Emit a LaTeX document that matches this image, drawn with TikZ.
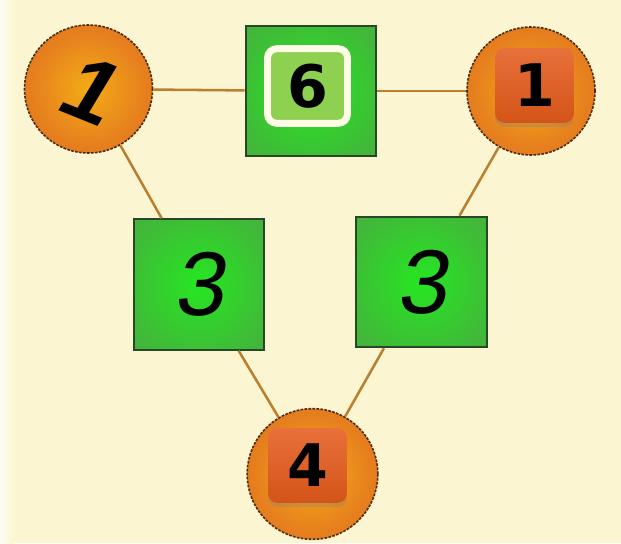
\documentclass[tikz,border=0pt]{standalone}
\usepackage{fontspec}
\usepackage{tikz}
\usetikzlibrary{shapes,shadows}

\newfontfamily\tagfont{DejaVu Sans}
\newfontfamily\handfont[FakeSlant=0.16]{Liberation Sans}

\definecolor{bgcream}{RGB}{251,246,209}
\definecolor{linkbrown}{RGB}{186,128,50}
\definecolor{ballin}{RGB}{244,172,22}
\definecolor{ballmid}{RGB}{230,128,30}
\definecolor{ballout}{RGB}{206,98,30}
\definecolor{ballrim}{RGB}{80,42,14}
\definecolor{boxin}{RGB}{38,230,34}
\definecolor{boxmid}{RGB}{62,190,54}
\definecolor{boxout}{RGB}{80,158,74}
\definecolor{boxrim}{RGB}{38,72,38}
\definecolor{tagtop}{RGB}{232,112,58}
\definecolor{tagbot}{RGB}{212,84,24}
\definecolor{sixfill}{RGB}{142,208,80}
\definecolor{sixrim}{RGB}{255,253,232}

\pgfdeclareradialshading{ballshade}{\pgfpoint{0bp}{0bp}}{color(0bp)=(ballin); color(22bp)=(ballmid); color(44bp)=(ballout); color(50bp)=(ballout)}
\pgfdeclareradialshading{boxshade}{\pgfpoint{0bp}{0bp}}{color(0bp)=(boxin); color(26bp)=(boxmid); color(50bp)=(boxout); color(75bp)=(boxout)}

\begin{document}
\begin{tikzpicture}[x=0.75pt,y=0.75pt,yscale=-1,xscale=1,
    ball/.style={circle,inner sep=0pt,minimum size=96pt,shading=ballshade,draw=ballrim,line width=1.2pt,dash pattern={on 2pt off 1pt}},
    greenbox/.style={rectangle,inner sep=0pt,minimum size=98pt,shading=boxshade,draw=boxrim,line width=1.4pt},
    tag/.style={rectangle,rounded corners=7pt,inner sep=0pt,minimum width=59pt,minimum height=56pt,top color=tagtop,bottom color=tagbot,font=\tagfont\bfseries\fontsize{44}{44}\selectfont},
    sixtag/.style={rectangle,rounded corners=7pt,inner sep=0pt,minimum width=60pt,minimum height=56pt,fill=sixfill,draw=sixrim,line width=5.2pt,font=\tagfont\bfseries\fontsize{44}{44}\selectfont},
    hand/.style={font=\handfont\fontsize{68}{68}\selectfont},
    link/.style={draw=linkbrown,line width=1.9pt}]
    \useasboundingbox (0,0) rectangle (621,543);
    
    %Background
    \fill [bgcream] (0,0) rectangle (621,543);
    \shade [left color=white!75!bgcream,right color=bgcream] (0,0) rectangle (14,543);
    
    %Shape: Circle
    \node [ball,hand] (cL) at (88.5,89) {\rotatebox{-22}{\bfseries 1}};
    %Shape: Circle
    \node [ball] (cR) at (531,91) {};
    %Shape: Circle
    \node [ball,minimum size=98pt] (cB) at (312.5,474) {};
    %Shape: Square
    \node [greenbox] (sT) at (311,91) {};
    %Shape: Square
    \node [greenbox,hand] (sL) at (199,284.5) {3};
    %Shape: Square
    \node [greenbox,hand] (sR) at (421.5,282) {3};
    
    %Straight Lines
    \draw [link] (cL) -- (sT);
    %Straight Lines
    \draw [link] (sT) -- (cR);
    %Straight Lines
    \draw [link] (cL) -- (sL);
    %Straight Lines
    \draw [link] (sL) -- (cB);
    %Straight Lines
    \draw [link] (cR) -- (sR);
    %Straight Lines
    \draw [link] (sR) -- (cB);
    
    % Text Node
    \node [sixtag] (tT) at (307.5,86) {6};
    % Text Node
    \node [tag,drop shadow={opacity=0.3,shadow xshift=0pt,shadow yshift=-3pt}] (tR) at (534.5,85.5) {1};
    % Text Node
    \node [tag,drop shadow={opacity=0.3,shadow xshift=0pt,shadow yshift=-3pt}] (tB) at (307.5,465.5) {4};
    
\end{tikzpicture}
\end{document}
